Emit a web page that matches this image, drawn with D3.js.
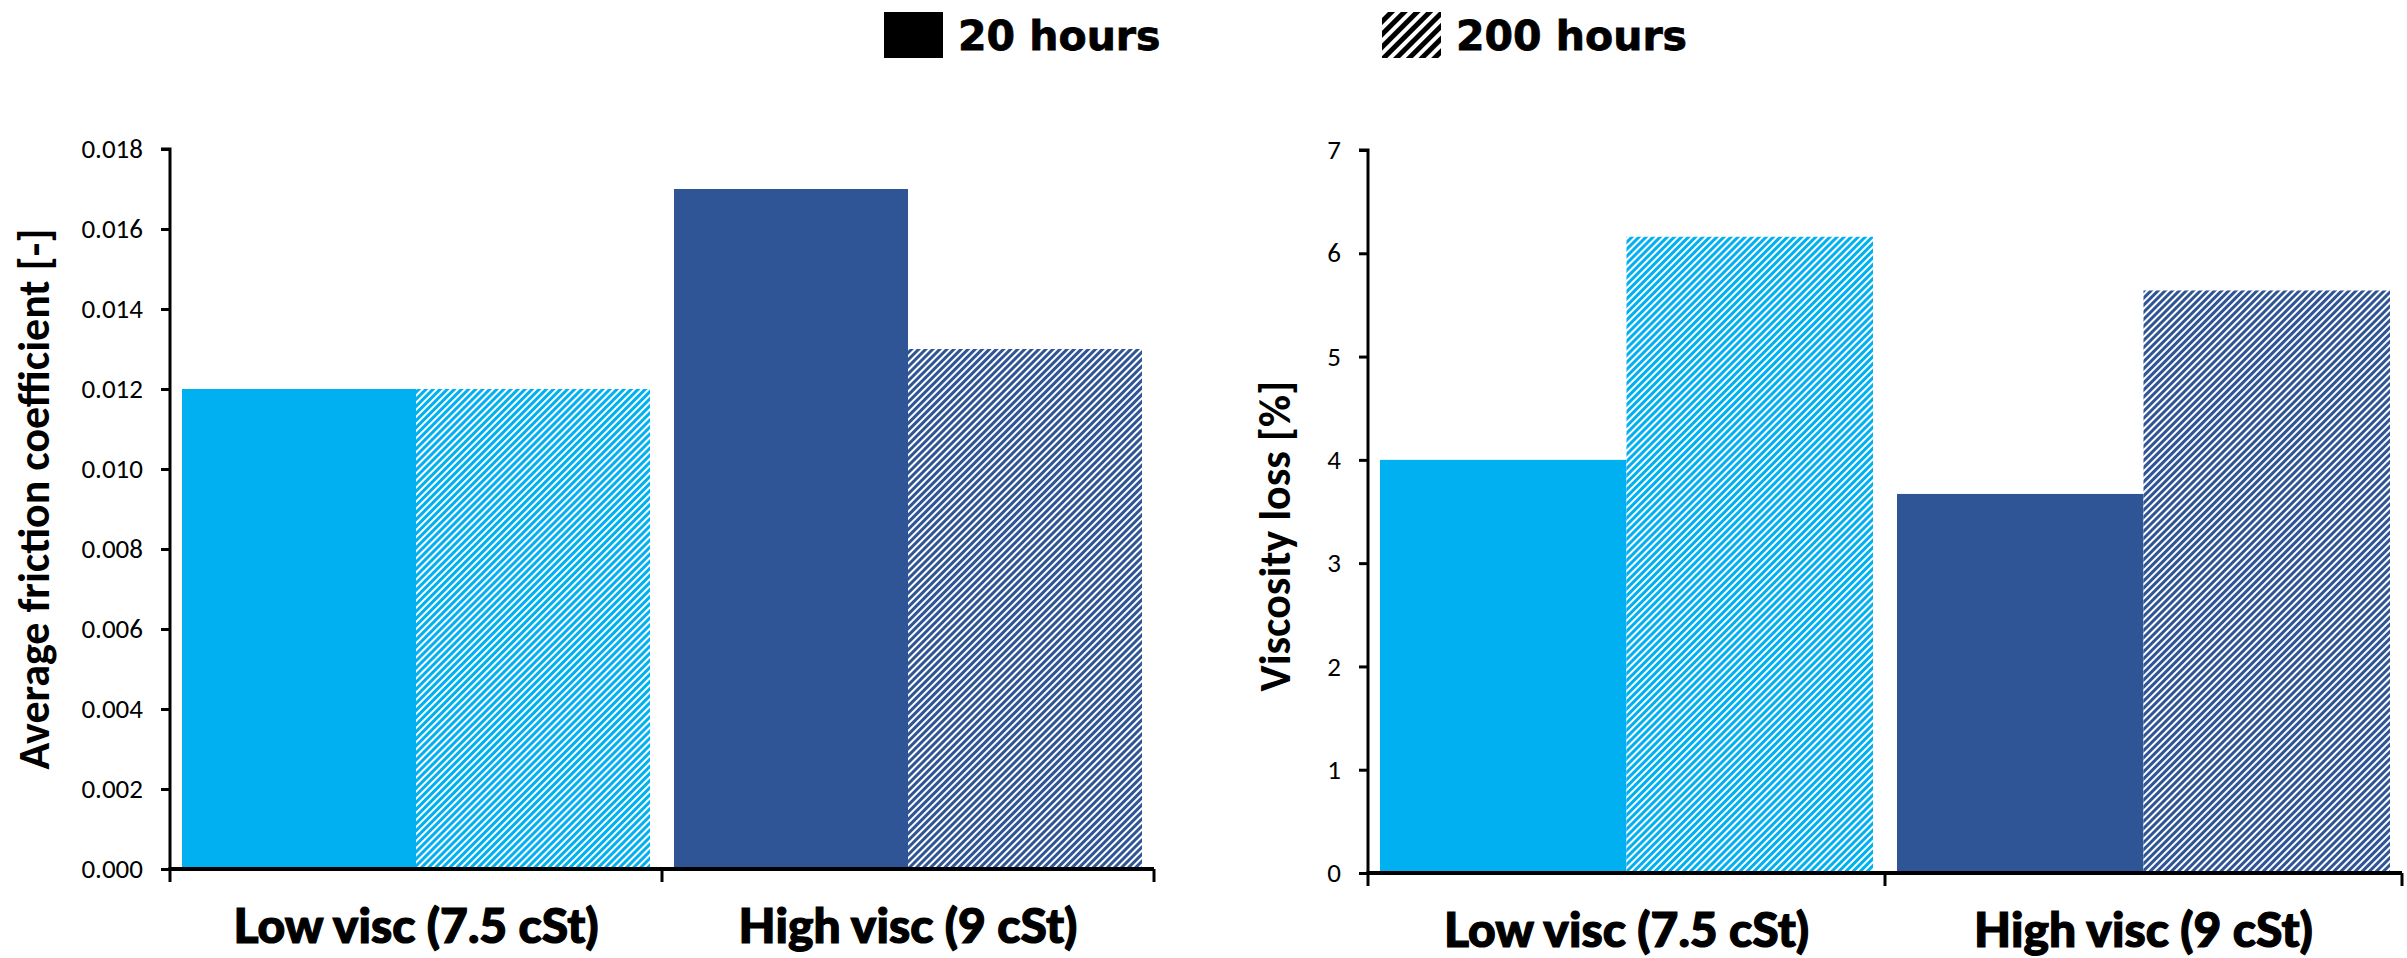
<!DOCTYPE html>
<html>
<head>
<meta charset="utf-8">
<script src="https://cdn.jsdelivr.net/npm/d3@7"></script>
<style>
  html, body { margin: 0; padding: 0; background: #fff; }
  svg { display: block; }
  .tick text { font-family: Carlito, Calibri, "Open Sans", sans-serif; }
</style>
</head>
<body>
<svg id="chart" width="2407" height="958"></svg>
<script>
// Oil categories and the two test durations
const categories = ["Low visc (7.5 cSt)", "High visc (9 cSt)"];
const durations = ["20 hours", "200 hours"];

// Average friction coefficient [-] per category: [20 h, 200 h]
const frictionLow = [0.012, 0.012];
const frictionHigh = [0.017, 0.013];

// Viscosity loss [%] per category: [20 h, 200 h]
const viscLossLow = [4.0, 6.16];
const viscLossHigh = [3.67, 5.64];

// Axis tick values
const frictionTicks = [0, 0.002, 0.004, 0.006, 0.008, 0.010, 0.012, 0.014, 0.016, 0.018];
const viscTicks = [0, 1, 2, 3, 4, 5, 6, 7];

const categoryColors = ["#00B0F0", "#2F5597"];

const svg = d3.select("#chart");
const defs = svg.append("defs");

// Diagonal hatch used for the 200-hour bars
function hatch(id, color, period, stripe) {
  const p = defs.append("pattern")
    .attr("id", id)
    .attr("patternUnits", "userSpaceOnUse")
    .attr("width", period)
    .attr("height", period)
    .attr("patternTransform", "rotate(45)");
  p.append("rect").attr("width", period).attr("height", period).attr("fill", "#fff");
  p.append("rect").attr("width", stripe).attr("height", period).attr("fill", color);
}
hatch("hatch-light", categoryColors[0], 5, 3);
hatch("hatch-dark", categoryColors[1], 5, 3);
hatch("hatch-legend", "#000", 9, 5);

const hatchIds = ["hatch-light", "hatch-dark"];

function drawPanel(opts) {
  const { xRange, yRange, domain, ticks, fmt, series, title, labelGap } = opts;
  const g = svg.append("g");

  const x0 = d3.scaleBand().domain(categories).range(xRange).padding(0);
  const inset = 12;
  const x1 = d3.scaleBand().domain(durations)
    .range([inset, x0.bandwidth() - inset]).padding(0);
  const y = d3.scaleLinear().domain(domain).range(yRange);

  // bars
  categories.forEach((cat, ci) => {
    durations.forEach((dur, di) => {
      const v = series[ci][di];
      g.append("rect")
        .attr("x", x0(cat) + x1(dur))
        .attr("y", y(v))
        .attr("width", x1.bandwidth())
        .attr("height", y(0) - y(v))
        .attr("fill", di === 0 ? categoryColors[ci] : `url(#${hatchIds[ci]})`);
    });
  });

  // y axis
  const yAxis = d3.axisLeft(y).tickValues(ticks).tickFormat(fmt).tickSize(9).tickPadding(labelGap);
  const ya = g.append("g").attr("transform", `translate(${xRange[0]},0)`).call(yAxis);
  ya.select(".domain").attr("stroke", "#000").attr("stroke-width", 3)
    .attr("d", `M-9,${yRange[1]}H0V${yRange[0]}`);
  ya.selectAll(".tick line").attr("stroke", "#000").attr("stroke-width", 3);
  ya.selectAll(".tick text").attr("font-size", 27).attr("fill", "#000");

  // x axis with boundary ticks between categories
  const xa = g.append("g").attr("transform", `translate(0,${yRange[0]})`);
  xa.append("line")
    .attr("x1", xRange[0] - 1.5).attr("x2", xRange[1])
    .attr("stroke", "#000").attr("stroke-width", 4);
  const bounds = categories.map(c => x0(c)).concat([x0(categories[categories.length - 1]) + x0.bandwidth()]);
  xa.selectAll("line.bound").data(bounds).join("line")
    .attr("class", "bound")
    .attr("x1", d => d).attr("x2", d => d)
    .attr("y1", 0).attr("y2", 13)
    .attr("stroke", "#000").attr("stroke-width", 3);
  xa.selectAll("text.cat").data(categories).join("text")
    .attr("class", "cat")
    .attr("x", d => x0(d) + x0.bandwidth() / 2)
    .attr("y", 74)
    .attr("text-anchor", "middle")
    .attr("font-family", "Lato, 'Noto Sans', sans-serif")
    .attr("font-weight", 900)
    .attr("font-size", 48)
    .attr("stroke", "#000")
    .attr("stroke-width", 1.2)
    .attr("fill", "#000")
    .text(d => d);

  // y title
  g.append("text")
    .attr("transform", `translate(${opts.titleX},${opts.titleY}) rotate(-90)`)
    .attr("text-anchor", "middle")
    .attr("font-family", "Carlito, Calibri, 'Open Sans', sans-serif")
    .attr("font-weight", 700)
    .attr("font-size", 44)
    .attr("fill", "#000")
    .text(title);
}

drawPanel({
  xRange: [170, 1154], yRange: [869, 149], domain: [0, 0.018],
  ticks: frictionTicks, fmt: d3.format(".3f"),
  series: [frictionLow, frictionHigh],
  title: "Average friction coefficient [-]", titleX: 49, titleY: 499, labelGap: 18
});

drawPanel({
  xRange: [1368, 2402], yRange: [873, 150], domain: [0, 7],
  ticks: viscTicks, fmt: d3.format("d"),
  series: [viscLossLow, viscLossHigh],
  title: "Viscosity loss [%]", titleX: 1290, titleY: 536, labelGap: 18
});

// legend
const legend = svg.append("g");
const legendItems = [
  { label: durations[0], x: 884, fill: "#000" },
  { label: durations[1], x: 1382, fill: "url(#hatch-legend)" }
];
legendItems.forEach(it => {
  legend.append("rect")
    .attr("x", it.x).attr("y", 12).attr("width", 59).attr("height", 46)
    .attr("fill", it.fill);
  legend.append("text")
    .attr("x", it.x + 74).attr("y", 50)
    .attr("font-family", "'DejaVu Sans', sans-serif")
    .attr("font-weight", 700)
    .attr("font-size", 41)
    .attr("stroke", "#000")
    .attr("stroke-width", 0.8)
    .attr("fill", "#000")
    .text(it.label);
});
</script>
</body>
</html>
